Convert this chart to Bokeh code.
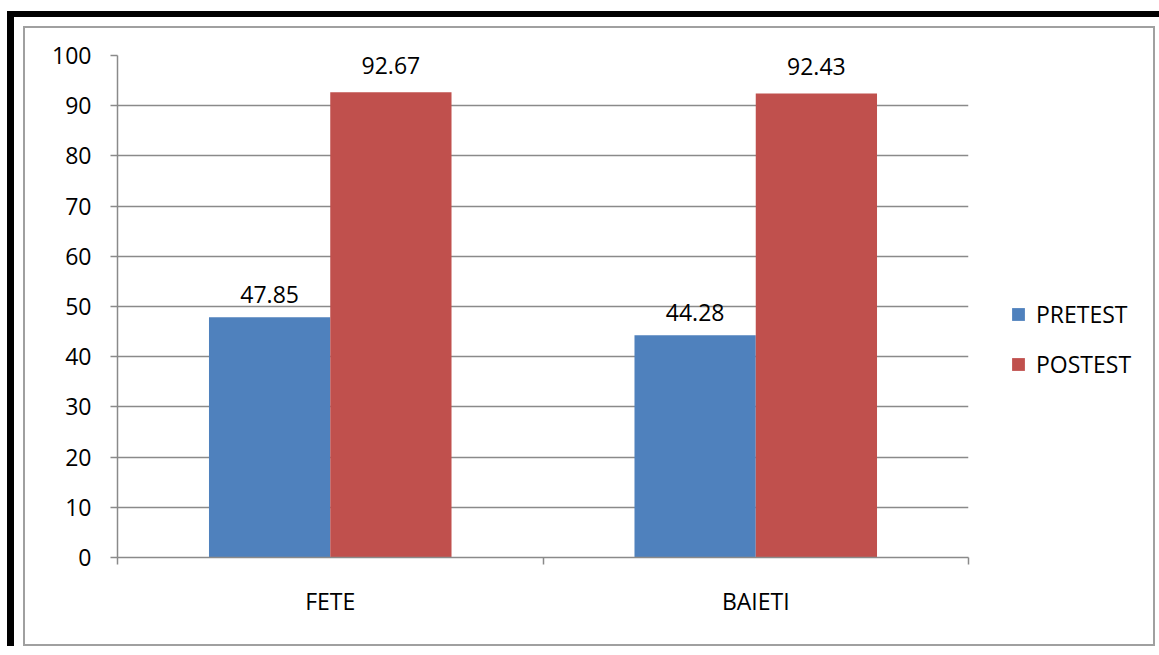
from bokeh.plotting import figure
from bokeh.models import (FactorRange, Range1d, LinearAxis, CategoricalAxis, FixedTicker,
                          Legend, LegendItem, ColumnDataSource)
from bokeh.transform import dodge
from bokeh.layouts import column, row
from bokeh.core.properties import value
from bokeh.embed import file_html
from bokeh.resources import INLINE

categories = ["FETE", "BAIETI"]
series = ["PRETEST", "POSTEST"]
pretest = [47.85, 44.28]
postest = [92.67, 92.43]
y_ticks = [0, 10, 20, 30, 40, 50, 60, 70, 80, 90, 100]

FONT = "Open Sans"
FS = "23px"
GRAY = "#8a8a8a"
BLUE = "#4F81BD"
RED = "#C0504D"

src = ColumnDataSource(dict(
    cat=categories,
    pretest=pretest,
    postest=postest,
    pre_lbl=[f"{v:.2f}" for v in pretest],
    post_lbl=[f"{v:.2f}" for v in postest],
))

p = figure(x_range=FactorRange(*categories), y_range=Range1d(0, 100),
           width=965, height=616, output_backend="svg", toolbar_location=None,
           x_axis_type=None, min_border_left=92, min_border_right=22,
           min_border_top=27, min_border_bottom=87, outline_line_color=None)

# y axis
yax = p.yaxis[0]
yax.ticker = FixedTicker(ticks=y_ticks)
yax.major_tick_out = 7
yax.major_tick_in = 0
yax.minor_tick_line_color = None
yax.axis_line_color = GRAY
yax.major_tick_line_color = GRAY
yax.axis_line_width = 1.5
yax.major_tick_line_width = 1.5
yax.major_label_text_font = FONT
yax.major_label_text_font_size = FS
yax.major_label_text_color = "black"
yax.major_label_standoff = 19
p.ygrid.ticker = FixedTicker(ticks=y_ticks)
p.ygrid.grid_line_color = GRAY
p.ygrid.grid_line_width = 1.5

# x axis: ticks at category boundaries (synthetic coordinates 0, 1, 2) + category labels
edge_axis = LinearAxis(ticker=FixedTicker(ticks=[0, 1, 2]),
                       major_label_overrides={0: "", 1: "", 2: ""},
                       major_label_text_font_size="10px", major_label_standoff=0,
                       major_tick_out=7, major_tick_in=0, minor_tick_line_color=None,
                       axis_line_color=GRAY, major_tick_line_color=GRAY,
                       axis_line_width=1.5, major_tick_line_width=1.5)
cat_axis = CategoricalAxis(axis_line_color=None, major_tick_line_color=None,
                           minor_tick_line_color=None,
                           major_label_text_font=FONT, major_label_text_font_size=FS,
                           major_label_text_color="black", major_label_standoff=14)
p.add_layout(edge_axis, "below")
p.add_layout(cat_axis, "below")

W = 0.285
r1 = p.vbar(x=dodge("cat", -0.1425, range=p.x_range), top="pretest", width=W,
            source=src, fill_color=BLUE, line_color=None)
r2 = p.vbar(x=dodge("cat", 0.1425, range=p.x_range), top="postest", width=W,
            source=src, fill_color=RED, line_color=None)

p.text(x=dodge("cat", -0.1425, range=p.x_range), y="pretest", text="pre_lbl", source=src,
       text_align="center", text_baseline="alphabetic", y_offset=-23,
       text_font=value(FONT), text_font_size=FS, text_color="black")
p.text(x=dodge("cat", 0.1425, range=p.x_range), y="postest", text="post_lbl", source=src,
       text_align="center", text_baseline="alphabetic", y_offset=-27,
       text_font=value(FONT), text_font_size=FS, text_color="black")

# legend panel: a second, axis-less figure to the right of the chart
lp = figure(width=163, height=616, output_backend="svg", toolbar_location=None,
            x_axis_type=None, y_axis_type=None, x_range=Range1d(0, 1), y_range=Range1d(0, 1),
            min_border=0, outline_line_color=None)
# zero-size proxies that only supply the legend swatches
lr1 = lp.vbar(x=0, top=0, width=0, source=src, fill_color=BLUE, line_color=None)
lr2 = lp.vbar(x=0, top=0, width=0, source=src, fill_color=RED, line_color=None)
legend = Legend(items=[LegendItem(label=series[0], renderers=[lr1]),
                       LegendItem(label=series[1], renderers=[lr2])],
                location=(20, 177), border_line_color=None, background_fill_alpha=0,
                label_text_font=FONT, label_text_font_size=FS, label_text_color="black",
                glyph_width=16, glyph_height=16, label_standoff=10, spacing=18,
                padding=0, margin=0)
lp.add_layout(legend, "center")

inner = row(p, lp, styles={"border": "2px solid #a0a0a0"})
layout = column(inner, styles={"border-top": "6px solid black", "border-left": "7px solid black",
                               "padding-left": "9px", "padding-top": "9px", "padding-right": "4px",
                               "margin-top": "11px", "margin-left": "7px"})

open("out.html", "w").write(file_html(layout, INLINE))
